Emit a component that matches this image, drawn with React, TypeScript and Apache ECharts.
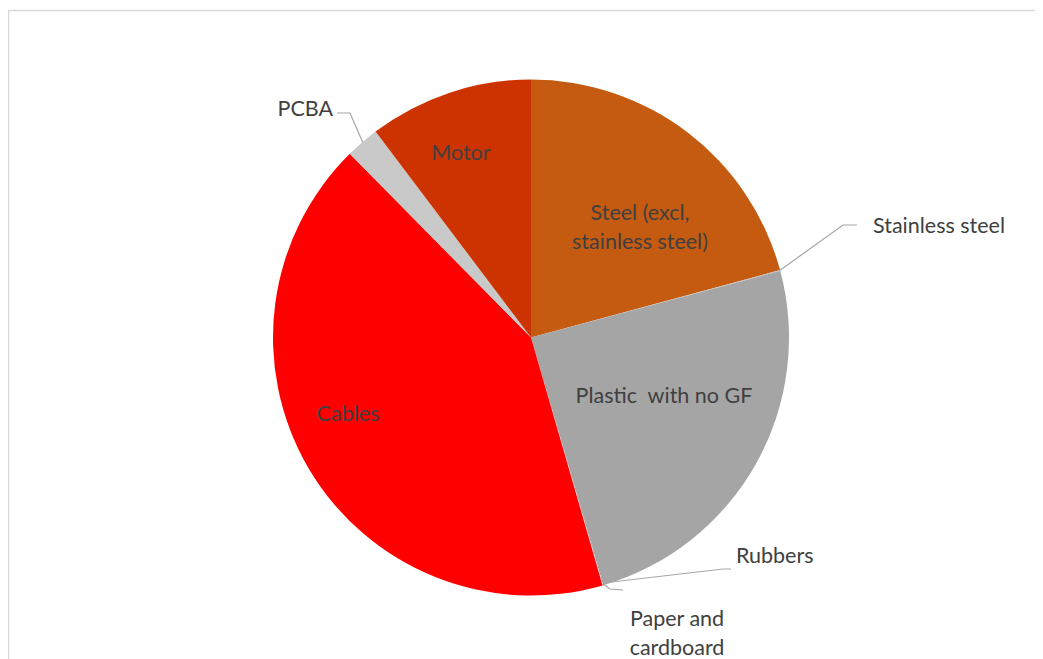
import React, { useEffect, useRef } from "react";
import * as echarts from "echarts";

const categories = [
  "Steel (excl,\nstainless steel)",
  "Stainless steel",
  "Plastic  with no GF",
  "Rubbers",
  "Paper and\ncardboard",
  "Cables",
  "PCBA",
  "Motor",
];
const values = [20.8, 0.05, 24.6, 0.05, 0.05, 42.1, 2.1, 10.3];
const colors = ["#C55A11", "#BFBFBF", "#A5A5A5", "#7F7F7F", "#DBDBDB", "#FF0000", "#C9C9C9", "#CC3300"];

// label placement (chart coords), not data
const labelPlace: any[] = [
  { x: 632, y: 218, align: "center" },
  { x: 865, y: 217, align: "left", line: [[771, 263], [835, 217], [849, 217]] },
  { x: 656, y: 387, align: "center" },
  { x: 728, y: 547, align: "left", line: [[595, 575], [715, 561], [723, 561]] },
  { x: 669, y: 624, align: "center", line: [[595, 576], [602, 581], [615, 582]] },
  { x: 340, y: 405, align: "center" },
  { x: 325, y: 100, align: "right", line: [[355, 135], [342, 105], [329, 105]] },
  { x: 453, y: 144, align: "center" },
];

export default function App() {
  const ref = useRef<HTMLDivElement>(null);
  useEffect(() => {
    const chart = echarts.init(ref.current!, null, { renderer: "svg" });
    const font = "Lato, 'Open Sans', sans-serif";
    chart.setOption({
      animation: false,
      backgroundColor: "#ffffff",
      graphic: [
        {
          type: "rect",
          shape: { x: 0.5, y: 2.5, width: 1200, height: 800 },
          style: { fill: "none", stroke: "#d9d9d9", lineWidth: 1.5 },
          silent: true,
        },
      ],
      series: [
        {
          type: "pie",
          center: [523, 329.5],
          radius: [0, 258],
          startAngle: 90,
          clockwise: true,
          avoidLabelOverlap: false,
          itemStyle: { borderWidth: 0 },
          label: {
            show: true,
            color: "#404040",
            fontFamily: font,
            fontSize: 21.5,
            lineHeight: 29,
            formatter: (p: any) => p.name,
          },
          labelLine: {
            show: true,
            lineStyle: { color: "#A6A6A6", width: 1.2 },
          },
          labelLayout: (params: any) => {
            const l = labelPlace[params.dataIndex];
            const o: any = {
              x: l.x,
              y: l.y,
              align: l.align,
              verticalAlign: "middle",
            };
            if (l.line) o.labelLinePoints = l.line;
            return o;
          },
          data: categories.map((c, i) => ({
            name: c,
            value: values[i],
            itemStyle: { color: colors[i] },
            label: { position: labelPlace[i].line ? "outside" : "inside" },
            labelLine: { show: !!labelPlace[i].line },
          })),
        },
      ],
    });
    return () => chart.dispose();
  }, []);
  return <div ref={ref} style={{ width: 1035, height: 651 }} />;
}
